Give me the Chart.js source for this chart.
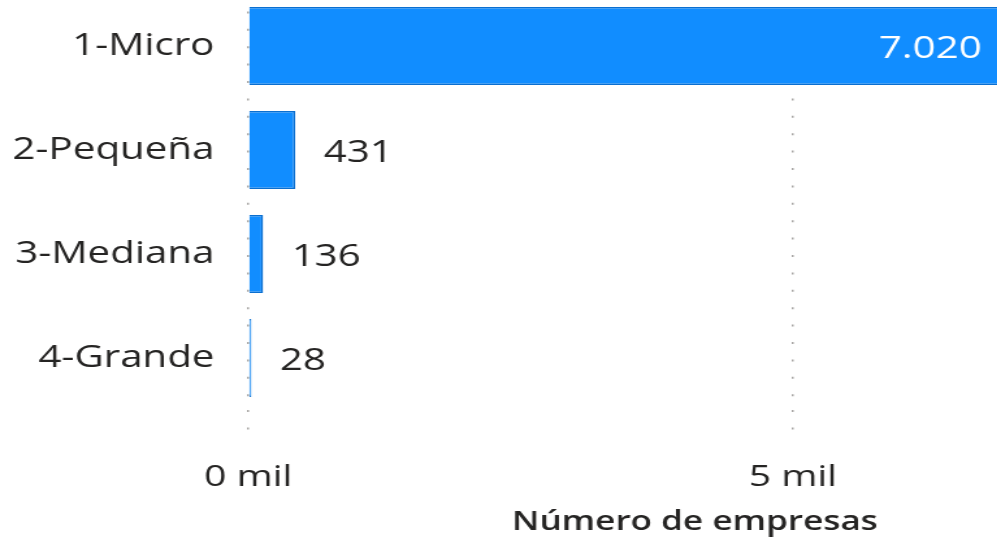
<!DOCTYPE html>
<html>
<head>
<meta charset="utf-8">
<script src="https://cdn.jsdelivr.net/npm/chart.js@4.4.1/dist/chart.umd.min.js"></script>
<style>
  html, body { margin: 0; padding: 0; background: #fff; overflow: hidden; }
  #clip { width: 997px; height: 539px; overflow: hidden; position: relative; }
  /* the reference is a horizontally stretched, slightly cropped screenshot */
  #wrap { position: absolute; left: 0; top: -6px; transform: scaleX(1.3); transform-origin: 0 0; }
</style>
</head>
<body>
<div id="clip">
  <div id="wrap"><canvas id="sizeChart" width="886" height="545"></canvas></div>
</div>
<script>
  const categories = ['1-Micro', '2-Pequeña', '3-Mediana', '4-Grande'];
  const empresas = [7020, 431, 136, 28];
  const xTicks = [0, 5000];
  const xMax = 8200;
  const axisTitle = 'Número de empresas';

  const FONT = "'Open Sans', 'Noto Sans', sans-serif";
  const TEXT = '#252423';

  // 7020 -> "7.020"
  function fmt(v) {
    return String(v).replace(/\B(?=(\d{3})+(?!\d))/g, '.');
  }

  // data labels: inside end (white) when the bar is long enough, else outside
  const barLabels = {
    id: 'barLabels',
    afterDatasetsDraw(chart) {
      var ctx = chart.ctx;
      var meta = chart.getDatasetMeta(0);
      ctx.save();
      ctx.font = '31px ' + FONT;
      ctx.textBaseline = 'middle';
      meta.data.forEach((bar, i) => {
        var txt = fmt(empresas[i]);
        var w = ctx.measureText(txt).width;
        var len = bar.x - bar.base;
        if (len > w + 60) {
          ctx.fillStyle = '#ffffff';
          ctx.textAlign = 'right';
          ctx.fillText(txt, bar.x - 24, bar.y + 3);
        } else {
          ctx.fillStyle = TEXT;
          ctx.textAlign = 'left';
          ctx.fillText(txt, bar.x + 22, bar.y + 3);
        }
      });
      ctx.restore();
    }
  };

  var ctx = document.getElementById('sizeChart').getContext('2d');
  var chart = new Chart(ctx, {
    type: 'bar',
    data: {
      labels: categories,
      datasets: [{
        label: axisTitle,
        data: empresas,
        backgroundColor: '#118DFF',
        borderColor: '#0B6FD0',
        borderWidth: 1.5,
        barPercentage: 0.75,
        categoryPercentage: 1
      }]
    },
    options: {
      indexAxis: 'y',
      responsive: false,
      animation: false,
      devicePixelRatio: 1,
      layout: { padding: { top: 0, right: 8, left: 0, bottom: 0 } },
      plugins: {
        legend: { display: false },
        tooltip: { enabled: false }
      },
      scales: {
        y: {
          grid: { display: false, drawTicks: false },
          border: { display: false },
          ticks: {
            color: TEXT,
            padding: 26,
            font: { family: FONT, size: 31 }
          },
          afterFit: (s) => {
            s.width = 191;
            s.paddingTop = 0;
            s.paddingBottom = 0;
          }
        },
        x: {
          min: 0,
          max: xMax,
          afterBuildTicks: (s) => { s.ticks = xTicks.map(v => ({ value: v })); },
          afterFit: (s) => { s.height = 129; },
          border: { display: false, dash: [2, 15.4] },
          grid: {
            color: '#a8a6a4',
            lineWidth: 1.5,
            tickLength: 30,
            tickBorderDash: [2, 15.4]
          },
          ticks: {
            color: TEXT,
            padding: 19,
            maxRotation: 0,
            font: { family: FONT, size: 30 },
            callback: (v) => (v / 1000) + ' mil'
          },
          title: {
            display: true,
            text: axisTitle,
            color: TEXT,
            padding: { top: 2, bottom: 0 },
            font: { family: FONT, size: 27, weight: '600' }
          }
        }
      }
    },
    plugins: [barLabels]
  });
</script>
</body>
</html>
